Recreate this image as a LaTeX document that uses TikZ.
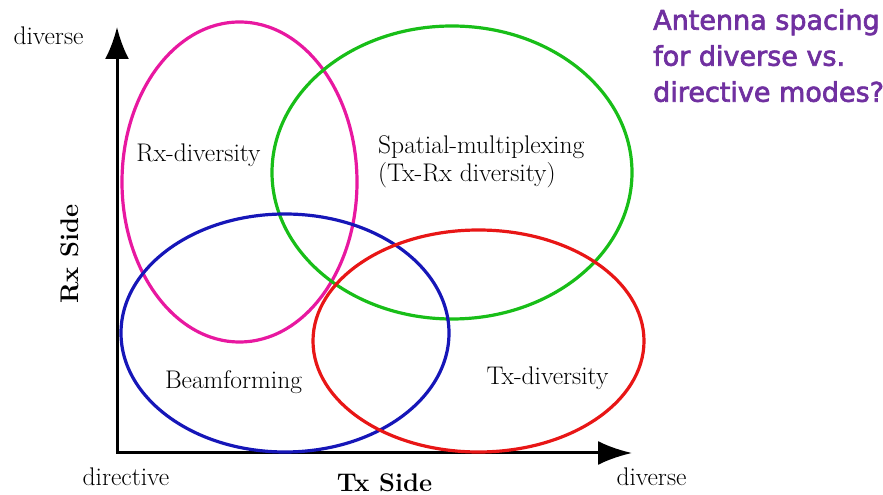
\documentclass[tikz,border=0pt]{standalone}
\usepackage{fontspec}
\usepackage{tikz}
\usetikzlibrary{arrows.meta}
\newfontfamily\notefont[FakeBold=2.5]{DejaVu Sans}
\definecolor{rxpink}{RGB}{232,24,160}
\definecolor{muxgreen}{RGB}{24,190,24}
\definecolor{beamblue}{RGB}{22,22,184}
\definecolor{txred}{RGB}{232,22,22}
\definecolor{notepurple}{RGB}{112,48,160}

\begin{document}
\begin{tikzpicture}[x=1pt,y=1pt,
        zone/.style={line width=3.2pt},
        lbl/.style={font=\fontsize{25.5}{28}\selectfont,inner sep=0pt},
        axislbl/.style={font=\fontsize{25.5}{28}\selectfont\bfseries,inner sep=0pt}]
        \useasboundingbox (0,0) rectangle (883,495);
        \coordinate (O) at (117,42);
        \coordinate (ytop) at (117,468);
        \coordinate (xend) at (632,42);
        \draw[line width=3pt,{Latex[length=32pt,width=24pt]}-{Latex[length=34pt,width=24pt]}] (ytop) -- (O) -- (xend);
        \draw[zone,rxpink] (239.5,313) ellipse [x radius=117.5, y radius=160];
        \draw[zone,muxgreen] (452,322.5) ellipse [x radius=180, y radius=146.5];
        \draw[zone,beamblue] (285,162) ellipse [x radius=164, y radius=119];
        \draw[zone,txred] (478.5,154) ellipse [x radius=165.5, y radius=111];
        \node[lbl] (divy) at (48.5,459) {diverse};
        \node[lbl] (rxdiv) at (198.5,340) {Rx-diversity};
        \node[lbl,align=left,anchor=west] (spmux) at (378,333.5) {Spatial-multiplexing\\(Tx-Rx diversity)};
        \node[lbl] (beam) at (233.5,113) {Beamforming};
        \node[lbl] (txdiv) at (547.5,117) {Tx-diversity};
        \node[lbl] (dirx) at (126,18) {directive};
        \node[axislbl] (txside) at (384.5,12) {Tx Side};
        \node[lbl] (divx) at (651.5,18) {diverse};
        \node[axislbl,rotate=90] (rxside) at (70,241) {Rx Side};
        \node[anchor=north west,align=left,inner sep=0pt,text=notepurple,
            font=\notefont\fontsize{27}{36}\selectfont] (note) at (653,486)
            {Antenna spacing\\for diverse vs.\\directive modes?};
    \end{tikzpicture}
\end{document}
